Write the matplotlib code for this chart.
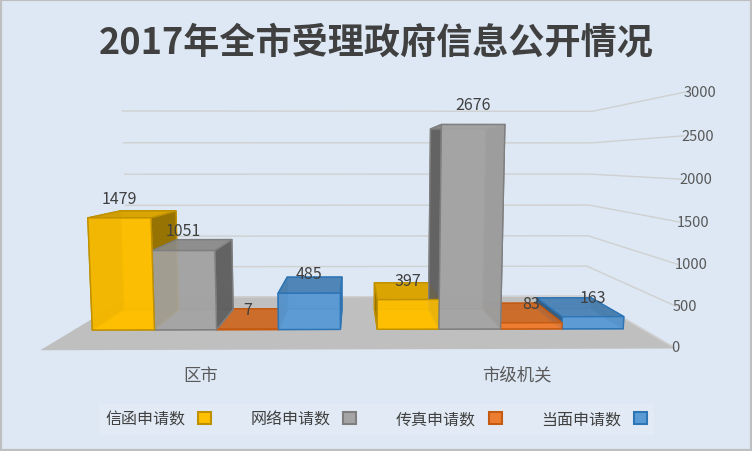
import numpy as np
import matplotlib.pyplot as plt
import matplotlib.colors as mcolors
from matplotlib.patches import Patch, Rectangle
from mpl_toolkits.mplot3d import proj3d

plt.rcParams['font.family'] = ['Noto Sans CJK SC', 'DejaVu Sans']

categories = ['区市', '市级机关']
series = ['信函申请数', '网络申请数', '传真申请数', '当面申请数']
letters = [1479, 397]
online = [1051, 2676]
fax = [7, 83]
in_person = [485, 163]
yticks = [0, 500, 1000, 1500, 2000, 2500, 3000]

colors = ['#FFC000', '#A5A5A5', '#ED7D31', '#5B9BD5']
edges = ['#BF9000', '#7F7F7F', '#C55A11', '#2E75B6']
bg = '#DDE8F4'


def shade(c, k, a=0.88):
    r, g, b = mcolors.to_rgb(c)
    return (r * k, g * k, b * k, a)


values = [letters, online, fax, in_person]
n_s = len(values)
bw = 0.87 / n_s
d0, d1 = 0.3, 0.7

xs, ys, zs, dxs, dys, dzs, fcs, ecs = [], [], [], [], [], [], [], []
for i, vals in enumerate(values):
    for j, v in enumerate(vals):
        xs.append(j - 0.435 + i * bw)
        ys.append(d0)
        zs.append(0)
        dxs.append(bw)
        dys.append(d1 - d0)
        dzs.append(v)
        # bottom, top, front, back, left, right
        fcs += [shade(colors[i], 1.0), shade(colors[i], 0.85), shade(colors[i], 1.0),
                shade(colors[i], 0.9), shade(colors[i], 0.55), shade(colors[i], 0.55)]
        ecs += [edges[i]] * 6

fig = plt.figure(figsize=(7.52, 4.52), dpi=100, facecolor=bg)
ax = fig.add_axes([-0.300, -0.148, 1.532, 1.316], projection='3d', facecolor=(0, 0, 0, 0))
ax.set_proj_type('persp', focal_length=0.183)
ax.view_init(elev=5, azim=-90.5)
ax.set_box_aspect((2.52, 0.9, 1.01))

ax.bar3d(xs, ys, zs, dxs, dys, dzs, color=fcs, edgecolor=ecs, linewidth=1.0, shade=False)

ax.set_xticks([])
ax.set_yticks([])
ax.set_zticks(yticks)
ax.set_xlim(-0.5, 1.5)
ax.set_ylim(0, 1)
ax.set_zlim(0, 3000)
ax.zaxis.set_ticks_position('lower')
ax.tick_params(axis='z', labelsize=10.5, colors='#595959', pad=-9)
for t in ax.zaxis.get_major_ticks():
    t.label1.set_horizontalalignment('left')
    t.label1.set_verticalalignment('center')

ax.xaxis.set_pane_color((1, 1, 1, 0))
ax.yaxis.set_pane_color((1, 1, 1, 0))
ax.zaxis.set_pane_color('#BFBFBF')
for axis in (ax.xaxis, ax.yaxis, ax.zaxis):
    axis.line.set_color((0, 0, 0, 0))
    axis._axinfo['tick']['inward_factor'] = 0
    axis._axinfo['tick']['outward_factor'] = 0
ax.xaxis._axinfo['grid'].update(color=(0, 0, 0, 0))
ax.yaxis._axinfo['grid'].update(color=(0, 0, 0, 0))
ax.zaxis._axinfo['grid'].update(color='#D0D0D0', linewidth=1.0)

fig.canvas.draw()
x0, x1 = ax.get_xlim()
y0, y1 = ax.get_ylim()
z0, z1 = ax.get_zlim()
M = ax.get_proj()

# dark front edge of the floor
ax_, ay_, _ = proj3d.proj_transform(x0, y0, z0, M)
bx_, by_, _ = proj3d.proj_transform(x1, y0, z0, M)
ax.annotate('', xy=(bx_, by_), xytext=(ax_, ay_),
            arrowprops=dict(arrowstyle='-', color='#404040', lw=2.5,
                            shrinkA=0, shrinkB=0))

# category labels below the front edge of the floor
for j, name in enumerate(categories):
    px, py, _ = proj3d.proj_transform(j, y0, z0, M)
    ax.annotate(name, (px, py), xytext=(0, -19), textcoords='offset points',
                ha='center', va='center', fontsize=12.5, color='#595959')

# data labels above the front top edge of each bar
for i, vals in enumerate(values):
    for j, v in enumerate(vals):
        px, py, _ = proj3d.proj_transform(j - 0.435 + (i + 0.5) * bw, d0, v, M)
        ax.annotate(str(v), (px, py), xytext=(0, 8), textcoords='offset points',
                    ha='center', va='bottom', fontsize=11.5, color='#404040')

fig.text(0.5, 0.905, '2017年全市受理政府信息公开情况', ha='center', va='center',
         fontsize=26, fontweight='bold', color='#404040')

handles = [Patch(facecolor=c, edgecolor=e, linewidth=1.5) for c, e in zip(colors, edges)]
fig.legend(handles, series, loc='lower center', bbox_to_anchor=(0.5, 0.02), ncol=4,
           markerfirst=False, frameon=True, facecolor='#E4ECF6', edgecolor='#E4ECF6',
           fontsize=11.5, handlelength=0.8, handleheight=0.8, columnspacing=2.5,
           labelcolor='#404040', fancybox=False)

fig.patches.append(Rectangle((0, 0), 1, 1, transform=fig.transFigure, fill=False,
                             edgecolor='#BFBFBF', linewidth=3))
fig.savefig('out.png', dpi=100, facecolor=bg)
